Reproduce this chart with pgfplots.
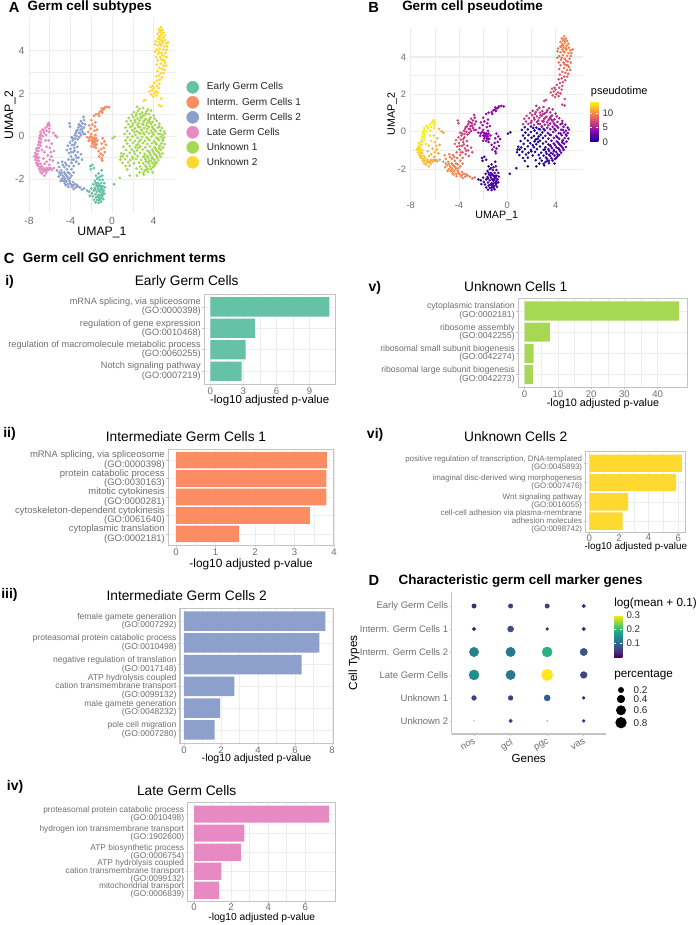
\documentclass[border=0pt]{standalone}
\usepackage{fontspec}
\setmainfont{Liberation Sans}
\usepackage{pgfplots}
\usepackage{pgfplotstable}
\pgfplotsset{compat=1.18}

\definecolor{earlyc}{HTML}{66C2A5}
\definecolor{intaC}{HTML}{FC8D62}
\definecolor{intbC}{HTML}{8DA0CB}
\definecolor{latec}{HTML}{E78AC3}
\definecolor{unkaC}{HTML}{A6D854}
\definecolor{unkbC}{HTML}{FFD92F}
\definecolor{tickc}{HTML}{6E6E6E}
\definecolor{gridc}{HTML}{EDEDED}
\definecolor{framec}{HTML}{C4C4C4}

\newcommand{\fs}[2]{\fontsize{#1}{#2}\selectfont}

\pgfplotsset{
  colormap={plasma}{rgb255=(13,8,135) rgb255=(84,2,163) rgb255=(139,10,165) rgb255=(185,50,137) rgb255=(219,92,104) rgb255=(244,136,73) rgb255=(254,188,43) rgb255=(240,249,33)},
  % l r t b in pixels of the reference
  boxat/.style n args={4}{at={(#1*0.75pt,-#3*0.75pt)},anchor=north west,
    width={(#2-#1)*0.75pt},height={(#4-#3)*0.75pt},scale only axis},
  umap/.style={
    xtick={-8,-4,0,4},xticklabels={-8,-4,0,4},ytick={-2,0,2,4},yticklabels={-2,0,2,4},
    minor x tick num=1,minor y tick num=1,grid=both,
    grid style={gridc,line width=0.5pt},major tick length=0pt,minor tick length=0pt,
    axis line style={draw=none},tick style={draw=none},
    tick label style={text=tickc},clip=false},
  gobar/.style={
    xbar,bar width=0.9,y dir=reverse,
    /pgf/number format/assume math mode=true,
    xmajorgrids,xminorgrids,ymajorgrids,minor x tick num=1,
    grid style={gridc,line width=0.4pt},
    tick align=outside,tick pos=left,major tick length=1.5pt,minor tick length=0pt,
    tick style={framec,line width=0.4pt},
    axis line style={framec,line width=0.75pt},
    xticklabel style={font=\fs{7.2}{8},text=tickc,inner sep=1pt},
    xlabel style={anchor=center},
  },
  barfont/.style={yticklabel style={font=\fs{#1}{#1},align=right,text=tickc,inner sep=1pt}},
  hiddenkey/.style={
    xmin=0,xmax=2,xtick=\empty,axis line style={draw=none},tick style={draw=none},
    major tick length=0pt,yticklabel pos=right,y dir=reverse,clip=false},
}

\pgfplotstableread[row sep=\\]{
x y t\\
-2.1 -1.40 1.2\\ -1.9 -1.35 1.4\\ -1.75 -1.50 1.1\\ -2.05 -1.55 1.6\\ -1.0 -1.60 1.7\\ -1.3 -1.75 1.5\\
-1.55 -1.85 1.3\\ -1.15 -1.90 1.6\\ -0.95 -1.85 1.8\\ -1.45 -2.00 1.2\\ -1.2 -2.05 1.7\\ -0.9 -2.05 1.9\\
-1.65 -2.10 1.4\\ -1.35 -2.20 1.5\\ -1.05 -2.20 2.0\\ -0.75 -2.20 1.8\\ -1.8 -2.25 1.1\\ -1.5 -2.30 1.6\\
-1.2 -2.32 1.9\\ -0.9 -2.35 1.7\\ -0.7 -2.40 2.0\\ -1.65 -2.42 1.3\\ -1.35 -2.45 1.8\\ -1.05 -2.48 1.5\\
-0.8 -2.55 1.9\\ -2.0 -2.45 1.0\\ -1.75 -2.55 1.2\\ -1.45 -2.60 1.6\\ -1.15 -2.62 1.4\\ -2.2 -2.60 0.9\\
-1.95 -2.68 1.1\\ -1.6 -2.72 1.5\\ -1.3 -2.75 1.3\\ -1.0 -2.72 1.8\\ -0.75 -2.70 1.6\\ -2.15 -2.80 1.0\\
-1.85 -2.82 1.2\\ -1.55 -2.88 1.4\\ -1.25 -2.88 1.7\\ -0.95 -2.85 1.5\\ -1.75 -2.98 1.1\\ -1.45 -3.00 1.3\\
-1.15 -3.00 1.6\\ -0.85 -2.95 1.8\\ -1.6 -3.10 1.2\\ -1.3 -3.12 1.4\\ -1.05 -3.08 1.5\\ -2.4 -2.55 0.8\\
0.2 -2.25 0.8\\ -0.9 -2.62 1.7\\ -1.1 -2.38 1.6\\ -1.6 -2.50 1.4\\
-1.25 -2.28 1.6\\ -1.0 -2.35 1.8\\ -1.1 -2.55 1.6\\ -0.95 -2.48 1.7\\ -1.4 -2.35 1.5\\ -1.25 -2.55 1.5\\ -0.9 -2.75 1.6\\
-1.15 -2.78 1.6\\ -1.4 -2.82 1.4\\ -1.1 -2.92 1.5\\ -1.3 -2.98 1.4\\ -1.55 -2.20 1.4\\ -1.35 -1.95 1.4\\
}\earlycells

\pgfplotstableread[row sep=\\]{
x y t\\
-0.5 1.38 4.0\\ -0.3 1.35 3.9\\ -0.7 1.35 4.1\\ -0.85 1.25 3.8\\ -1.0 1.30 3.7\\ -1.15 1.15 4.0\\ -0.95 1.10 3.6\\
-1.3 1.05 4.2\\ -1.55 1.02 4.4\\ -1.75 0.95 4.6\\ -1.25 0.95 3.9\\ -2.0 0.75 4.8\\ -1.6 0.65 4.5\\ -1.9 0.55 4.3\\
-2.2 0.50 5.0\\ -1.65 0.45 4.6\\ -2.05 0.35 4.7\\ -1.7 0.25 4.4\\ -2.3 0.20 4.9\\ -1.45 0.30 4.2\\ -2.0 0.10 4.6\\
-1.6 0.05 4.1\\ -2.4 -0.05 4.5\\ -2.2 -0.10 4.3\\ -1.95 -0.05 4.0\\ -1.75 -0.08 3.8\\ -1.55 -0.10 4.2\\ -2.25 -0.22 4.1\\
-2.0 -0.20 3.7\\ -1.8 -0.22 4.4\\ -1.6 -0.25 3.9\\ -1.4 -0.20 4.3\\ -1.9 -0.35 3.6\\ -1.7 -0.38 4.0\\ -1.5 -0.38 3.8\\
-1.75 -0.50 4.2\\ -1.55 -0.55 3.7\\ -2.0 -0.48 4.1\\ -0.9 -0.10 4.0\\ -0.75 -0.25 3.8\\ -1.0 -0.35 4.2\\ -0.6 -0.40 3.7\\
-0.8 -0.55 4.0\\ -1.05 -0.60 3.6\\ -1.3 -0.70 3.9\\ -1.1 -0.82 4.1\\ -0.9 -0.90 3.5\\ -0.7 -0.75 3.8\\ -1.25 -0.95 4.0\\
-1.0 -1.05 3.4\\ -0.95 -1.15 3.7\\
-1.85 -0.12 3.9\\ -1.65 -0.15 4.0\\ -1.9 -0.25 4.0\\ -1.7 -0.30 3.9\\ -1.6 -0.42 3.8\\ -2.1 -0.02 4.3\\ -1.0 1.18 3.9\\ -0.75 1.30 3.9\\
}\intacells

\pgfplotstableread[row sep=\\]{
x y t\\
-2.75 0.90 5.5\\ -2.7 0.75 5.4\\ -3.0 0.70 5.9\\ -2.85 0.60 5.6\\ -3.2 0.55 6.1\\ -2.6 0.55 5.3\\ -2.95 0.45 5.8\\
-3.25 0.40 6.2\\ -2.7 0.40 5.5\\ -3.05 0.30 5.9\\ -3.45 0.25 6.5\\ -2.85 0.20 5.7\\ -3.2 0.15 6.1\\ -3.6 0.05 6.8\\
-3.0 0.05 5.9\\ -3.4 0.00 6.4\\ -3.75 -0.10 7.0\\ -2.6 0.10 5.4\\ -3.3 -0.15 6.4\\ -4.1 0.60 7.2\\ -4.05 0.45 7.1\\
-3.8 -0.20 7.2\\ -4.05 -0.30 7.6\\ -3.55 -0.30 6.9\\ -3.85 -0.42 7.4\\ -4.25 -0.45 7.9\\ -3.35 -0.50 6.7\\ -3.65 -0.55 7.2\\
-4.0 -0.60 7.7\\ -4.35 -0.65 8.2\\ -3.3 -0.75 7.0\\ -3.75 -0.75 7.6\\ -4.15 -0.80 8.0\\ -3.0 -0.85 6.8\\ -3.5 -0.90 7.5\\
-3.95 -0.95 8.1\\ -3.25 -1.00 7.3\\ -3.7 -1.10 8.0\\ -4.2 -1.10 8.6\\ -2.9 -1.10 7.0\\ -3.45 -1.20 7.8\\ -3.9 -1.25 8.4\\
-4.5 -1.25 9.0\\ -4.8 -1.20 9.4\\ -3.2 -1.30 7.6\\ -3.7 -1.40 8.4\\ -4.15 -1.40 8.9\\ -5.2 -1.25 9.9\\ -5.1 -1.45 10.0\\
-4.6 -1.45 9.4\\ -3.9 -1.55 8.8\\ -4.35 -1.55 9.3\\ -5.3 -1.60 10.2\\ -4.9 -1.60 9.8\\ -5.1 -1.70 10.1\\ -4.6 -1.70 9.7\\
-4.1 -1.75 9.2\\ -3.7 -1.70 8.9\\ -5.0 -1.80 10.0\\ -4.75 -1.85 9.8\\ -4.4 -1.85 9.5\\ -3.9 -1.85 9.2\\ -5.15 -1.90 10.2\\
-4.85 -2.00 10.0\\ -4.55 -2.00 9.8\\ -4.25 -2.00 9.6\\ -4.7 -2.10 10.1\\ -4.4 -2.12 9.9\\ -4.1 -2.10 9.7\\ -3.75 -2.15 9.4\\
-4.55 -2.22 10.2\\ -4.25 -2.25 10.0\\ -3.95 -2.27 9.8\\ -3.6 -2.25 9.5\\ -3.3 -2.35 9.3\\ -4.2 -2.38 10.1\\ -3.85 -2.38 9.8\\
-3.5 -2.40 9.5\\ -3.1 -2.40 9.2\\ -2.9 -2.50 9.0\\ -2.7 -2.45 8.8\\ -3.7 -2.48 9.6\\
-3.1 0.50 5.9\\ -2.9 0.32 5.7\\ -3.35 0.28 6.2\\ -3.1 0.15 6.0\\ -3.5 0.15 6.5\\ -2.75 0.10 5.6\\ -3.15 -0.05 6.1\\ -3.55 -0.12 6.7\\
-3.9 -0.05 7.0\\ -3.65 -0.40 7.1\\ -3.95 -0.75 7.8\\ -3.6 -0.68 7.3\\ -3.4 -1.02 7.6\\ -3.85 -1.10 8.2\\ -4.4 -1.35 9.0\\ -4.75 -1.35 9.5\\
-4.25 -1.70 9.3\\ -4.5 -1.78 9.6\\ -4.85 -1.72 9.9\\ -4.65 -1.92 9.8\\ -4.95 -2.10 10.1\\ -4.3 -1.92 9.6\\ -4.05 -1.95 9.5\\ -4.45 -2.30 10.1\\
-4.05 -2.20 9.7\\ -3.4 -2.28 9.4\\ -3.75 -2.30 9.6\\ -4.6 -2.08 10.0\\
}\intbcells

\pgfplotstableread[row sep=\\]{
x y t\\
-6.1 0.62 13.6\\ -6.0 0.50 13.5\\ -6.25 0.45 13.7\\ -6.05 0.35 13.4\\ -6.45 0.38 13.8\\ -6.7 0.30 13.9\\ -6.3 0.25 13.6\\
-6.9 0.20 13.9\\ -6.55 0.15 13.8\\ -6.05 0.20 13.3\\ -5.65 0.15 11.6\\ -5.45 0.03 11.0\\ -5.3 -0.05 10.7\\ -6.95 0.05 14.0\\
-6.7 0.00 13.8\\ -7.0 -0.10 13.9\\ -6.85 -0.15 13.8\\ -6.35 0.05 13.5\\ -7.05 -0.25 13.9\\ -6.85 -0.30 13.7\\ -6.4 -0.20 13.3\\
-6.1 -0.20 12.6\\ -7.1 -0.40 13.7\\ -6.9 -0.45 13.5\\ -5.8 -0.35 11.5\\ -7.15 -0.55 13.5\\ -6.3 -0.50 13.0\\ -6.0 -0.55 11.8\\
-7.3 -0.60 13.3\\ -7.1 -0.70 13.2\\ -6.75 -0.65 13.0\\ -7.4 -0.80 13.0\\ -7.2 -0.85 12.9\\ -6.5 -0.75 12.0\\ -5.9 -0.75 11.3\\
-5.6 -0.70 10.9\\ -7.5 -0.95 12.9\\ -7.3 -1.00 12.8\\ -7.05 -1.00 12.6\\ -6.2 -0.90 11.5\\ -5.85 -0.95 11.1\\ -7.4 -1.10 12.6\\
-7.2 -1.15 12.5\\ -6.6 -1.05 11.9\\ -6.0 -1.10 11.2\\ -7.3 -1.25 12.4\\ -7.1 -1.30 12.3\\ -5.7 -1.15 10.8\\ -6.3 -1.20 11.4\\
-7.15 -1.40 12.2\\ -6.95 -1.45 12.1\\ -6.5 -1.30 11.6\\ -6.05 -1.35 11.2\\ -7.0 -1.55 12.0\\ -6.8 -1.55 11.9\\ -6.6 -1.50 11.7\\
-6.3 -1.50 11.5\\ -6.9 -1.67 11.9\\ -6.65 -1.65 11.7\\ -6.45 -1.62 11.5\\ -6.2 -1.60 11.3\\ -6.0 -1.55 11.1\\ -5.8 -1.58 10.9\\
-6.5 -1.85 11.4\\ -6.35 -1.72 11.3\\ -5.9 -1.50 11.0\\ -5.6 -1.50 10.7\\
-7.35 -0.90 13.0\\ -7.2 -1.00 12.8\\ -7.25 -0.70 13.2\\ -7.05 -0.55 13.4\\ -7.0 -0.30 13.8\\ -7.05 -1.15 12.5\\ -7.2 -1.35 12.3\\ -6.9 -1.30 12.1\\
-6.8 -1.42 11.9\\ -6.55 -1.60 11.6\\ -6.35 -1.58 11.4\\ -6.1 -1.50 11.2\\ -6.75 -1.75 11.7\\ -6.95 -0.05 13.9\\ -6.85 0.08 13.9\\ -6.6 0.25 13.8\\ -6.2 0.55 13.6\\
}\latecells

\pgfplotstableread[row sep=\\]{
x y t\\
2.4 1.38 5.6\\ 2.65 1.28 5.8\\ 3.0 1.32 6.1\\ 3.45 1.25 5.7\\ 2.1 1.12 5.9\\ 2.5 1.18 6.2\\ 2.9 1.10 5.6\\ 3.3 1.15 6.0\\ 3.75 1.20 5.5\\
1.9 1.00 6.3\\ 2.3 0.95 5.9\\ 2.7 1.02 6.4\\ 3.1 0.98 5.8\\ 3.55 1.03 5.9\\ 4.0 0.97 5.2\\
1.6 0.85 6.6\\ 2.05 0.88 6.1\\ 2.45 0.82 6.3\\ 2.85 0.86 5.9\\ 3.25 0.80 6.0\\ 3.7 0.87 5.5\\ 4.1 0.82 5.1\\
1.4 0.70 6.5\\ 1.8 0.72 6.2\\ 2.25 0.66 6.4\\ 2.65 0.74 6.0\\ 3.05 0.68 5.8\\ 3.5 0.72 5.4\\ 3.9 0.66 5.0\\ 4.3 0.72 4.8\\
1.55 0.55 6.0\\ 2.0 0.58 5.8\\ 2.45 0.52 5.9\\ 2.9 0.56 5.6\\ 3.3 0.50 5.5\\ 3.75 0.57 5.0\\ 4.15 0.52 4.7\\ 4.55 0.58 4.5\\
1.3 0.40 5.8\\ 1.75 0.42 5.5\\ 2.2 0.36 5.6\\ 2.7 0.42 5.3\\ 3.1 0.38 5.2\\ 3.55 0.44 4.6\\ 3.95 0.36 4.3\\ 4.4 0.40 4.2\\ 4.8 0.38 4.0\\
1.45 0.24 0.9\\ 1.95 0.28 0.7\\ 2.4 0.22 0.8\\ 2.85 0.27 1.0\\ 3.3 0.21 3.2\\ 3.75 0.26 3.6\\ 4.2 0.22 3.5\\ 4.65 0.26 3.4\\ 5.0 0.22 3.3\\
1.2 0.10 0.6\\ 1.7 0.12 0.5\\ 2.25 0.06 0.4\\ 2.7 0.12 0.6\\ 3.1 0.08 1.1\\ 3.55 0.13 2.6\\ 4.0 0.07 2.8\\ 4.45 0.11 3.0\\ 4.85 0.06 3.1\\ 5.1 0.12 3.2\\
1.5 -0.05 0.5\\ 1.95 -0.02 0.4\\ 2.45 -0.08 0.3\\ 2.9 -0.04 0.8\\ 3.35 -0.07 2.2\\ 3.8 -0.02 2.5\\ 4.25 -0.08 2.7\\ 4.7 -0.04 2.9\\ 5.0 -0.07 3.0\\
1.3 -0.20 0.6\\ 1.75 -0.18 0.5\\ 2.2 -0.23 0.3\\ 2.75 -0.17 0.4\\ 3.15 -0.22 1.9\\ 3.6 -0.18 2.3\\ 4.05 -0.23 2.4\\ 4.5 -0.19 2.7\\ 4.9 -0.22 2.9\\
1.45 -0.35 0.5\\ 2.0 -0.32 0.4\\ 2.5 -0.38 0.2\\ 2.95 -0.33 0.6\\ 3.4 -0.37 1.9\\ 3.85 -0.33 2.2\\ 4.3 -0.38 2.4\\ 4.75 -0.34 2.6\\ 5.05 -0.37 2.8\\
1.1 -0.50 0.6\\ 1.7 -0.47 0.4\\ 2.25 -0.52 0.2\\ 2.7 -0.48 0.3\\ 3.2 -0.53 1.6\\ 3.65 -0.48 2.0\\ 4.1 -0.52 2.2\\ 4.55 -0.49 2.4\\ 4.9 -0.53 2.6\\
1.35 -0.65 0.4\\ 1.9 -0.62 0.3\\ 2.4 -0.67 0.2\\ 2.95 -0.63 0.4\\ 3.4 -0.68 1.7\\ 3.85 -0.63 1.9\\ 4.3 -0.67 2.1\\ 4.7 -0.64 2.3\\
0.9 -0.80 0.5\\ 1.15 -0.84 0.4\\ 1.7 -0.78 0.3\\ 2.2 -0.83 0.2\\ 2.7 -0.79 0.3\\ 3.15 -0.83 1.3\\ 3.6 -0.78 1.8\\ 4.05 -0.83 2.0\\ 4.5 -0.79 2.2\\ 4.85 -0.82 2.3\\
1.0 -0.95 0.4\\ 1.45 -0.93 0.3\\ 1.95 -0.97 0.2\\ 2.45 -0.93 0.2\\ 3.0 -0.97 0.9\\ 3.4 -0.93 1.6\\ 3.85 -0.98 1.8\\ 4.3 -0.94 2.0\\ 4.65 -0.97 2.1\\
0.8 -1.10 0.4\\ 1.25 -1.08 0.3\\ 1.75 -1.12 0.2\\ 2.3 -1.08 0.2\\ 2.8 -1.12 0.4\\ 3.2 -1.08 1.4\\ 3.6 -1.13 1.6\\ 4.05 -1.09 1.8\\ 4.45 -1.12 1.9\\
1.0 -1.25 0.3\\ 1.55 -1.22 0.2\\ 2.1 -1.27 0.2\\ 2.6 -1.24 0.3\\ 3.0 -1.28 1.0\\ 3.45 -1.23 1.5\\ 3.9 -1.27 1.6\\ 4.3 -1.24 1.8\\
1.3 -1.40 0.3\\ 1.7 -1.38 0.2\\ 2.7 -1.42 0.3\\ 3.2 -1.38 1.3\\ 3.65 -1.42 1.5\\ 4.05 -1.40 1.6\\
1.45 -1.56 0.3\\ 2.35 -1.52 0.2\\ 2.85 -1.55 0.4\\ 3.3 -1.57 1.3\\ 3.75 -1.53 1.4\\
2.65 -1.70 0.3\\ 3.0 -1.72 1.1\\ 3.45 -1.68 1.3\\ 3.9 -1.70 1.4\\
0.25 -0.03 0.6\\ 0.05 -0.10 0.5\\ 0.75 -1.95 0.3\\ 1.7 -1.85 0.2\\ 2.4 -1.85 0.3\\ 3.05 -1.80 1.2\\ 0.85 -0.95 0.5\\
3.3 -1.45 1.4\\ 3.55 -1.30 1.6\\ 3.75 -1.18 1.7\\ 3.95 -1.45 1.5\\ 4.15 -1.20 1.8\\ 3.45 -1.02 1.6\\ 3.7 -0.88 1.8\\ 3.95 -0.72 2.0\\ 4.2 -0.88 2.1\\
4.4 -0.72 2.2\\ 4.55 -0.58 2.4\\ 4.2 -0.58 2.3\\ 3.55 -0.72 1.8\\ 3.75 -1.55 1.4\\ 3.45 -1.55 1.3\\ 3.15 -1.62 1.2\\ 3.85 -1.05 1.7\\ 4.6 -0.88 2.2\\
4.35 -1.02 1.9\\ 4.15 -1.32 1.7\\ 3.25 -1.18 1.3\\ 3.1 -0.95 1.2\\ 2.55 -0.55 0.2\\ 2.35 -0.42 0.2\\ 2.6 -0.25 0.3\\ 2.1 -0.72 0.2\\ 2.0 -1.05 0.2\\
2.2 0.75 6.3\\ 2.55 0.60 6.1\\ 2.75 0.88 6.0\\ 3.0 0.55 5.7\\ 3.15 0.75 5.9\\ 3.4 0.62 5.6\\ 3.6 0.80 5.6\\ 2.35 1.05 5.9\\ 2.95 0.95 6.0\\ 3.25 1.05 5.9\\
2.55 0.42 5.5\\ 2.85 0.30 5.4\\ 3.4 0.35 5.0\\ 3.85 0.45 4.5\\ 4.1 0.30 3.9\\ 4.55 0.45 4.1\\ 3.65 0.65 5.2\\ 1.95 0.48 5.6\\ 2.15 0.20 0.8\\ 2.6 0.15 0.7\\
4.4 -0.10 2.8\\ 4.6 0.10 3.0\\ 3.0 0.15 1.0\\ 3.9 0.15 2.9\\ 3.5 -0.15 2.3\\ 4.15 -0.30 2.5\\ 4.6 -0.45 2.5\\ 4.85 -0.15 2.9\\
}\unkacells

\pgfplotstableread[row sep=\\]{
x y t\\
4.7 5.10 9.7\\ 4.5 5.00 9.8\\ 4.85 4.98 9.5\\ 4.6 4.88 9.9\\ 4.95 4.85 9.6\\ 4.4 4.80 9.4\\ 4.75 4.75 10.0\\ 5.05 4.70 9.5\\ 4.55 4.68 9.8\\
4.9 4.60 9.7\\ 4.4 4.55 9.3\\ 4.7 4.50 9.9\\ 5.1 4.50 9.6\\ 4.2 4.45 9.2\\ 5.4 4.40 9.5\\ 4.55 4.40 9.6\\ 4.9 4.38 9.8\\ 5.2 4.35 9.4\\
4.15 4.30 9.1\\ 4.4 4.25 9.3\\ 4.75 4.25 9.7\\ 5.05 4.20 9.5\\ 5.3 4.20 9.3\\ 4.6 4.10 9.4\\ 4.95 4.05 9.6\\ 5.25 4.05 9.2\\ 4.3 4.05 9.0\\
4.15 3.95 8.9\\ 4.75 3.90 9.3\\ 5.15 3.90 9.2\\ 4.45 3.85 9.0\\ 5.0 3.75 9.3\\ 4.25 3.70 8.8\\ 4.65 3.70 9.1\\ 5.25 3.70 9.0\\ 4.9 3.55 9.1\\
4.4 3.55 8.7\\ 5.1 3.45 8.9\\ 4.7 3.40 8.8\\ 4.3 3.35 8.5\\ 4.95 3.30 8.8\\ 5.2 3.30 8.7\\ 4.55 3.20 8.5\\ 4.8 3.15 8.6\\ 5.05 3.10 8.5\\
4.35 3.05 7.9\\ 4.7 2.95 7.8\\ 4.95 2.95 8.2\\ 4.5 2.85 7.3\\ 4.25 2.80 7.1\\ 4.8 2.75 7.6\\ 4.6 2.65 7.3\\ 4.35 2.60 7.0\\ 4.1 2.50 7.2\\
4.55 2.45 7.5\\ 3.9 2.35 7.4\\ 4.3 2.35 7.2\\ 3.7 2.30 7.6\\ 4.0 2.25 7.5\\ 4.5 2.25 7.7\\ 3.85 2.15 7.6\\ 4.2 2.10 7.3\\ 3.6 2.10 7.7\\
4.4 2.05 7.5\\ 4.05 2.00 7.4\\ 3.75 1.95 7.6\\ 4.25 1.90 7.2\\ 3.95 1.85 7.5\\ 4.75 1.75 7.0\\ 4.55 1.45 6.8\\ 4.75 1.40 6.9\\ 3.2 1.70 6.5\\ 3.05 1.65 6.4\\
4.65 4.95 9.8\\ 4.75 4.85 9.9\\ 4.6 4.62 9.7\\ 4.85 4.45 9.6\\ 4.5 4.55 9.5\\ 4.65 4.30 9.5\\ 4.5 3.95 9.2\\ 4.85 3.80 9.3\\ 5.0 3.55 9.0\\ 4.75 3.60 9.0\\
}\unkbcells

\pgfplotstableread[row sep=\\]{
x y pct val\\
1 1 0.13 0.030\\ 2 1 0.13 0.050\\ 3 1 0.13 0.050\\ 4 1 0.08 0.030\\
1 2 0.08 0.030\\ 2 2 0.25 0.070\\ 3 2 0.05 0.025\\ 4 2 0.08 0.030\\
1 3 0.60 0.130\\ 2 3 0.60 0.120\\ 3 3 0.69 0.190\\ 4 3 0.37 0.080\\
1 4 0.69 0.150\\ 2 4 0.60 0.120\\ 3 4 0.89 0.300\\ 4 4 0.31 0.060\\
1 5 0.15 0.050\\ 2 5 0.15 0.050\\ 3 5 0.25 0.085\\ 4 5 0.05 0.020\\
1 6 0.0005 0.010\\ 2 6 0.08 0.050\\ 3 6 0.0005 0.010\\ 4 6 0.05 0.030\\
}\markertable

\begin{document}
\begin{tikzpicture}
\path[use as bounding box] (0,0) rectangle (523.5pt,-693.75pt);

% panel letters and titles
\node[anchor=west,inner sep=0pt,font=\fs{11}{12}\bfseries] at (8.7*0.75pt,-7*0.75pt) {A};
\node[anchor=west,inner sep=0pt,font=\fs{10.1}{12}\bfseries] at (27.3*0.75pt,-7*0.75pt) {Germ cell subtypes};
\node[anchor=west,inner sep=0pt,font=\fs{11}{12}\bfseries] at (368*0.75pt,-7*0.75pt) {B};
\node[anchor=west,inner sep=0pt,font=\fs{10.1}{12}\bfseries] at (402*0.75pt,-7*0.75pt) {Germ cell pseudotime};
\node[anchor=west,inner sep=0pt,font=\fs{11}{12}\bfseries] at (3.5*0.75pt,-258*0.75pt) {C};
\node[anchor=west,inner sep=0pt,font=\fs{10.1}{12}\bfseries] at (22.7*0.75pt,-258*0.75pt) {Germ cell GO enrichment terms};
\node[anchor=west,inner sep=0pt,font=\fs{11}{12}\bfseries] at (368.3*0.75pt,-580.7*0.75pt) {D};
\node[anchor=west,inner sep=0pt,font=\fs{10.1}{12}\bfseries] at (398.3*0.75pt,-580.7*0.75pt) {Characteristic germ cell marker genes};
\foreach \lab/\xx/\yy in {i)/5/281.7,ii)/3/434,iii)/1/595,iv)/6.7/787,v)/368.3/287.7,vi)/366.7/435}
  \node[anchor=west,inner sep=0pt,font=\fs{10.5}{12}\bfseries] at (\xx*0.75pt,-\yy*0.75pt) {\lab};
\foreach \lab/\xx/\yy in {Early Germ Cells/186.7/282.3,Intermediate Germ Cells 1/186/436.7,Intermediate Germ Cells 2/186.7/595.7,Late Germ Cells/186.7/791,Unknown Cells 1/515.7/286.7,Unknown Cells 2/515.7/436.7}
  \node[inner sep=0pt,font=\fs{10.3}{12}] at (\xx*0.75pt,-\yy*0.75pt) {\lab};
\node[anchor=west,inner sep=0pt,font=\fs{8.2}{10}] at (590.7*0.75pt,-91.7*0.75pt) {pseudotime};
\node[anchor=west,inner sep=0pt,font=\fs{8.8}{10}] at (614*0.75pt,-603.3*0.75pt) {log(mean + 0.1)};
\node[anchor=west,inner sep=0pt,font=\fs{8.8}{10}] at (614*0.75pt,-675*0.75pt) {percentage};

% A
\begin{axis}[boxat={29}{175}{17}{213},umap,xmin=-8,xmax=6.06,ymin=-3.6,ymax=5.58,
  tick label style={font=\fs{7.8}{9}},
  xlabel={UMAP\_1},ylabel={UMAP\_2},
  xlabel style={font=\fs{9.2}{10},at={(axis description cs:0.5,-0.102)},anchor=center},
  ylabel style={font=\fs{9.2}{10},at={(axis description cs:-0.13,0.5)},anchor=center}]
\addplot[only marks,mark=*,mark size=0.85pt,earlyc] table[x=x,y=y] {\earlycells};
\addplot[only marks,mark=*,mark size=0.85pt,intaC] table[x=x,y=y] {\intacells};
\addplot[only marks,mark=*,mark size=0.85pt,intbC] table[x=x,y=y] {\intbcells};
\addplot[only marks,mark=*,mark size=0.85pt,latec] table[x=x,y=y] {\latecells};
\addplot[only marks,mark=*,mark size=0.85pt,unkaC] table[x=x,y=y] {\unkacells};
\addplot[only marks,mark=*,mark size=0.85pt,unkbC] table[x=x,y=y] {\unkbcells};
\end{axis}

% A key
\begin{axis}[boxat={186.7}{198.7}{79.8}{169.8},hiddenkey,ymin=0.5,ymax=6.5,ytick={1,...,6},
  yticklabels={Early Germ Cells,Interm. Germ Cells 1,Interm. Germ Cells 2,Late Germ Cells,Unknown 1,Unknown 2},
  yticklabel style={font=\fs{7.56}{9},inner sep=0pt,xshift=6pt,text=black!85}]
\addplot[only marks,mark=*,mark size=4.5pt,earlyc] coordinates {(1,1)};
\addplot[only marks,mark=*,mark size=4.5pt,intaC] coordinates {(1,2)};
\addplot[only marks,mark=*,mark size=4.5pt,intbC] coordinates {(1,3)};
\addplot[only marks,mark=*,mark size=4.5pt,latec] coordinates {(1,4)};
\addplot[only marks,mark=*,mark size=4.5pt,unkaC] coordinates {(1,5)};
\addplot[only marks,mark=*,mark size=4.5pt,unkbC] coordinates {(1,6)};
\end{axis}

% B
\begin{axis}[boxat={410.7}{582.7}{28.3}{200},umap,xmin=-8,xmax=6.24,ymin=-3.65,ymax=5.53,
  tick label style={font=\fs{7}{8}},xticklabel style={yshift=2pt},
  extra y ticks={4},extra y tick labels={},extra y tick style={grid style={gridc,line width=1.3pt}},
  xlabel={UMAP\_1},ylabel={UMAP\_2},
  xlabel style={font=\fs{8}{10},at={(axis description cs:0.5,-0.093)},anchor=center},
  ylabel style={font=\fs{8}{10},at={(axis description cs:-0.107,0.5)},anchor=center},
  colormap name=plasma,point meta min=0,point meta max=14,
  colorbar,colorbar style={at={(1.0424,0.5725)},anchor=north west,width=6.2pt,height=30pt,
    ytick={0,5,10},yticklabels={0,5,10},yticklabel pos=right,axis line style={draw=none},
    tick align=inside,major tick length=1.5pt,tick style={white,line width=0.3pt},
    yticklabel style={font=\fs{7.2}{8},text=black!80,inner sep=2pt,xshift=1pt}},
  scatter/use mapped color={draw=mapped color,fill=mapped color}]
\addplot[scatter,only marks,mark=*,mark size=0.75pt,point meta=\thisrow{t}] table[x=x,y=y] {\earlycells};
\addplot[scatter,only marks,mark=*,mark size=0.75pt,point meta=\thisrow{t}] table[x=x,y=y] {\intacells};
\addplot[scatter,only marks,mark=*,mark size=0.75pt,point meta=\thisrow{t}] table[x=x,y=y] {\intbcells};
\addplot[scatter,only marks,mark=*,mark size=0.75pt,point meta=\thisrow{t}] table[x=x,y=y] {\latecells};
\addplot[scatter,only marks,mark=*,mark size=0.75pt,point meta=\thisrow{t}] table[x=x,y=y] {\unkacells};
\addplot[scatter,only marks,mark=*,mark size=0.75pt,point meta=\thisrow{t}] table[x=x,y=y] {\unkbcells};
\end{axis}

% C i
\begin{axis}[boxat={204.3}{335}{294}{384},gobar,barfont=6.9,xmin=-0.54,xmax=11.3,ymin=0.4,ymax=4.6,
  xtick={0,3,6,9},ytick={1,...,4},
  yticklabels={{mRNA splicing, via spliceosome~\\(GO:0000398)},{regulation of gene expression~\\(GO:0010468)},{regulation of macromolecule metabolic process~\\(GO:0060255)},{Notch signaling pathway~\\(GO:0007219)}},
  xlabel={-log10 adjusted p-value},
  xlabel style={font=\fs{8.6}{10},at={(axis description cs:0.5,-0.189)}}]
\addplot[fill=earlyc,draw=none] coordinates {(10.8,1) (4.05,2) (3.2,3) (2.85,4)};
\end{axis}

% C ii
\begin{axis}[boxat={168.3}{334}{449}{545},gobar,barfont=7.1,xmin=-0.194,xmax=4,ymin=0.4,ymax=5.6,
  xtick={0,1,2,3,4},ytick={1,...,5},
  yticklabels={{mRNA splicing, via spliceosome~\\(GO:0000398)},{protein catabolic process~\\(GO:0030163)},{mitotic cytokinesis~\\(GO:0000281)},{cytoskeleton-dependent cytokinesis~\\(GO:0061640)},{cytoplasmic translation~\\(GO:0002181)}},
  xlabel={-log10 adjusted p-value},
  xlabel style={font=\fs{8.9}{10},at={(axis description cs:0.5,-0.198)}}]
\addplot[fill=intaC,draw=none] coordinates {(3.82,1) (3.81,2) (3.81,3) (3.39,4) (1.6,5)};
\end{axis}

% C iii
\begin{axis}[boxat={180}{333}{608}{743},gobar,barfont=6.4,xmin=-0.216,xmax=8.05,ymin=0.4,ymax=6.6,
  xtick={0,2,4,6,8},ytick={1,...,6},
  yticklabels={{female gamete generation~\\(GO:0007292)},{proteasomal protein catabolic process~\\(GO:0010498)},{negative regulation of translation~\\(GO:0017148)},{ATP hydrolysis coupled~\\cation transmembrane transport\\(GO:0099132)},{male gamete generation~\\(GO:0048232)},{pole cell migration~\\(GO:0007280)}},
  xlabel={-log10 adjusted p-value},
  xlabel style={font=\fs{7.9}{10},at={(axis description cs:0.5,-0.119)}}]
\addplot[fill=intbC,draw=none] coordinates {(7.64,1) (7.31,2) (6.36,3) (2.72,4) (1.95,5) (1.66,6)};
\end{axis}

% C iv
\begin{axis}[boxat={187.7}{335.7}{802.7}{901.7},gobar,barfont=6.27,xmin=-0.34,xmax=7.64,ymin=0.4,ymax=5.6,
  xtick={0,2,4,6},ytick={1,...,5},xticklabel style={yshift=1.2pt},
  yticklabels={{proteasomal protein catabolic process~\\(GO:0010498)},{hydrogen ion transmembrane transport~\\(GO:1902600)},{ATP biosynthetic process~\\(GO:0006754)},{ATP hydrolysis coupled~\\cation transmembrane transport\\(GO:0099132)},{mitochondrial transport~\\(GO:0006839)}},
  xlabel={-log10 adjusted p-value},
  xlabel style={font=\fs{7.7}{10},at={(axis description cs:0.5,-0.158)}}]
\addplot[fill=latec,draw=none] coordinates {(7.28,1) (2.71,2) (2.53,3) (1.47,4) (1.35,5)};
\end{axis}

% C v
\begin{axis}[boxat={518.3}{687.7}{298.3}{387.3},gobar,barfont=6.5,xmin=-1.9,xmax=49,ymin=0.4,ymax=4.6,
  xtick={0,10,20,30,40},ytick={1,...,4},
  yticklabels={{cytoplasmic translation~\\(GO:0002181)},{ribosome assembly~\\(GO:0042255)},{ribosomal small subunit biogenesis~\\(GO:0042274)},{ribosomal large subunit biogenesis~\\(GO:0042273)}},
  xlabel={-log10 adjusted p-value},
  xlabel style={font=\fs{8.1}{10},at={(axis description cs:0.5,-0.18)}}]
\addplot[fill=unkaC,draw=none] coordinates {(46.4,1) (7.6,2) (2.7,3) (2.45,4)};
\end{axis}

% C vi
\begin{axis}[boxat={585.7}{686}{451.7}{532.7},gobar,barfont=5.95,xmin=-0.245,xmax=6.52,ymin=0.4,ymax=4.6,
  xtick={0,2,4,6},ytick={1,...,4},xticklabel style={yshift=1.5pt},
  yticklabels={{positive regulation of transcription, DNA-templated~\\(GO:0045893)},{imaginal disc-derived wing morphogenesis~\\(GO:0007476)},{Wnt signaling pathway~\\(GO:0016055)},{cell-cell adhesion via plasma-membrane~\\adhesion molecules~\\(GO:0098742)}},
  xlabel={-log10 adjusted p-value},
  xlabel style={font=\fs{7.4}{10},at={(axis description cs:0.5,-0.18)}}]
\addplot[fill=unkbC,draw=none] coordinates {(6.25,1) (5.85,2) (2.61,3) (2.25,4)};
\end{axis}

% D
\begin{axis}[boxat={451.7}{605.7}{591.7}{734},xmin=0.39,xmax=4.6,ymin=0.378,ymax=6.57,y dir=reverse,
  axis x line*=bottom,axis y line*=left,axis line style={-,framec,line width=0.8pt},
  xtick={1,2,3,4},xticklabels={nos,gcl,pgc,vas},ytick={1,...,6},
  yticklabels={Early Germ Cells,Interm. Germ Cells 1,Interm. Germ Cells 2,Late Germ Cells,Unknown 1,Unknown 2},
  tick align=outside,major tick length=1.5pt,tick style={framec,line width=0.4pt},
  yticklabel style={font=\fs{7.1}{8},text=tickc,inner sep=1pt},
  xticklabel style={font=\fs{7.2}{8},text=tickc,rotate=30,anchor=north east,inner sep=1pt},
  xlabel={Genes},ylabel={Cell Types},
  xlabel style={font=\fs{8.7}{10},at={(axis description cs:0.5,-0.169)},anchor=center},
  ylabel style={font=\fs{8.8}{10},at={(axis description cs:-0.634,0.5)},anchor=center},
  colormap/viridis,point meta min=0,point meta max=0.3,
  colorbar,colorbar style={at={(1.054,0.836)},anchor=north west,width=6.2pt,height=31.7pt,
    ytick={0.1,0.2,0.3},yticklabels={0.1,0.2,0.3},yticklabel pos=right,axis line style={draw=none},
    tick align=inside,major tick length=1.5pt,tick style={white,line width=0.3pt},
    yticklabel style={font=\fs{7.3}{8},text=black!80,inner sep=2pt,xshift=1pt}},
  scatter/use mapped color={draw=mapped color,fill=mapped color},clip=false]
\addplot[scatter,only marks,mark=*,point meta=\thisrow{val},
  visualization depends on={4.5*sqrt(\thisrow{pct}) \as \dsize},
  scatter/@pre marker code/.append style={/tikz/mark size=\dsize}] table[x=x,y=y] {\markertable};
\end{axis}

% D size key
\begin{axis}[boxat={612}{630}{683}{730},hiddenkey,ymin=683,ymax=730,ytick={690,699,710.3,722.7},
  yticklabels={0.2,0.4,0.6,0.8},
  yticklabel style={font=\fs{7.4}{8},inner sep=0pt,xshift=2.5pt,text=black!85}]
\addplot[only marks,mark=*,mark size=2.0pt,black] coordinates {(1,690)};
\addplot[only marks,mark=*,mark size=2.85pt,black] coordinates {(1,699)};
\addplot[only marks,mark=*,mark size=3.5pt,black] coordinates {(1,710.3)};
\addplot[only marks,mark=*,mark size=4.0pt,black] coordinates {(1,722.7)};
\end{axis}
\end{tikzpicture}
\end{document}
